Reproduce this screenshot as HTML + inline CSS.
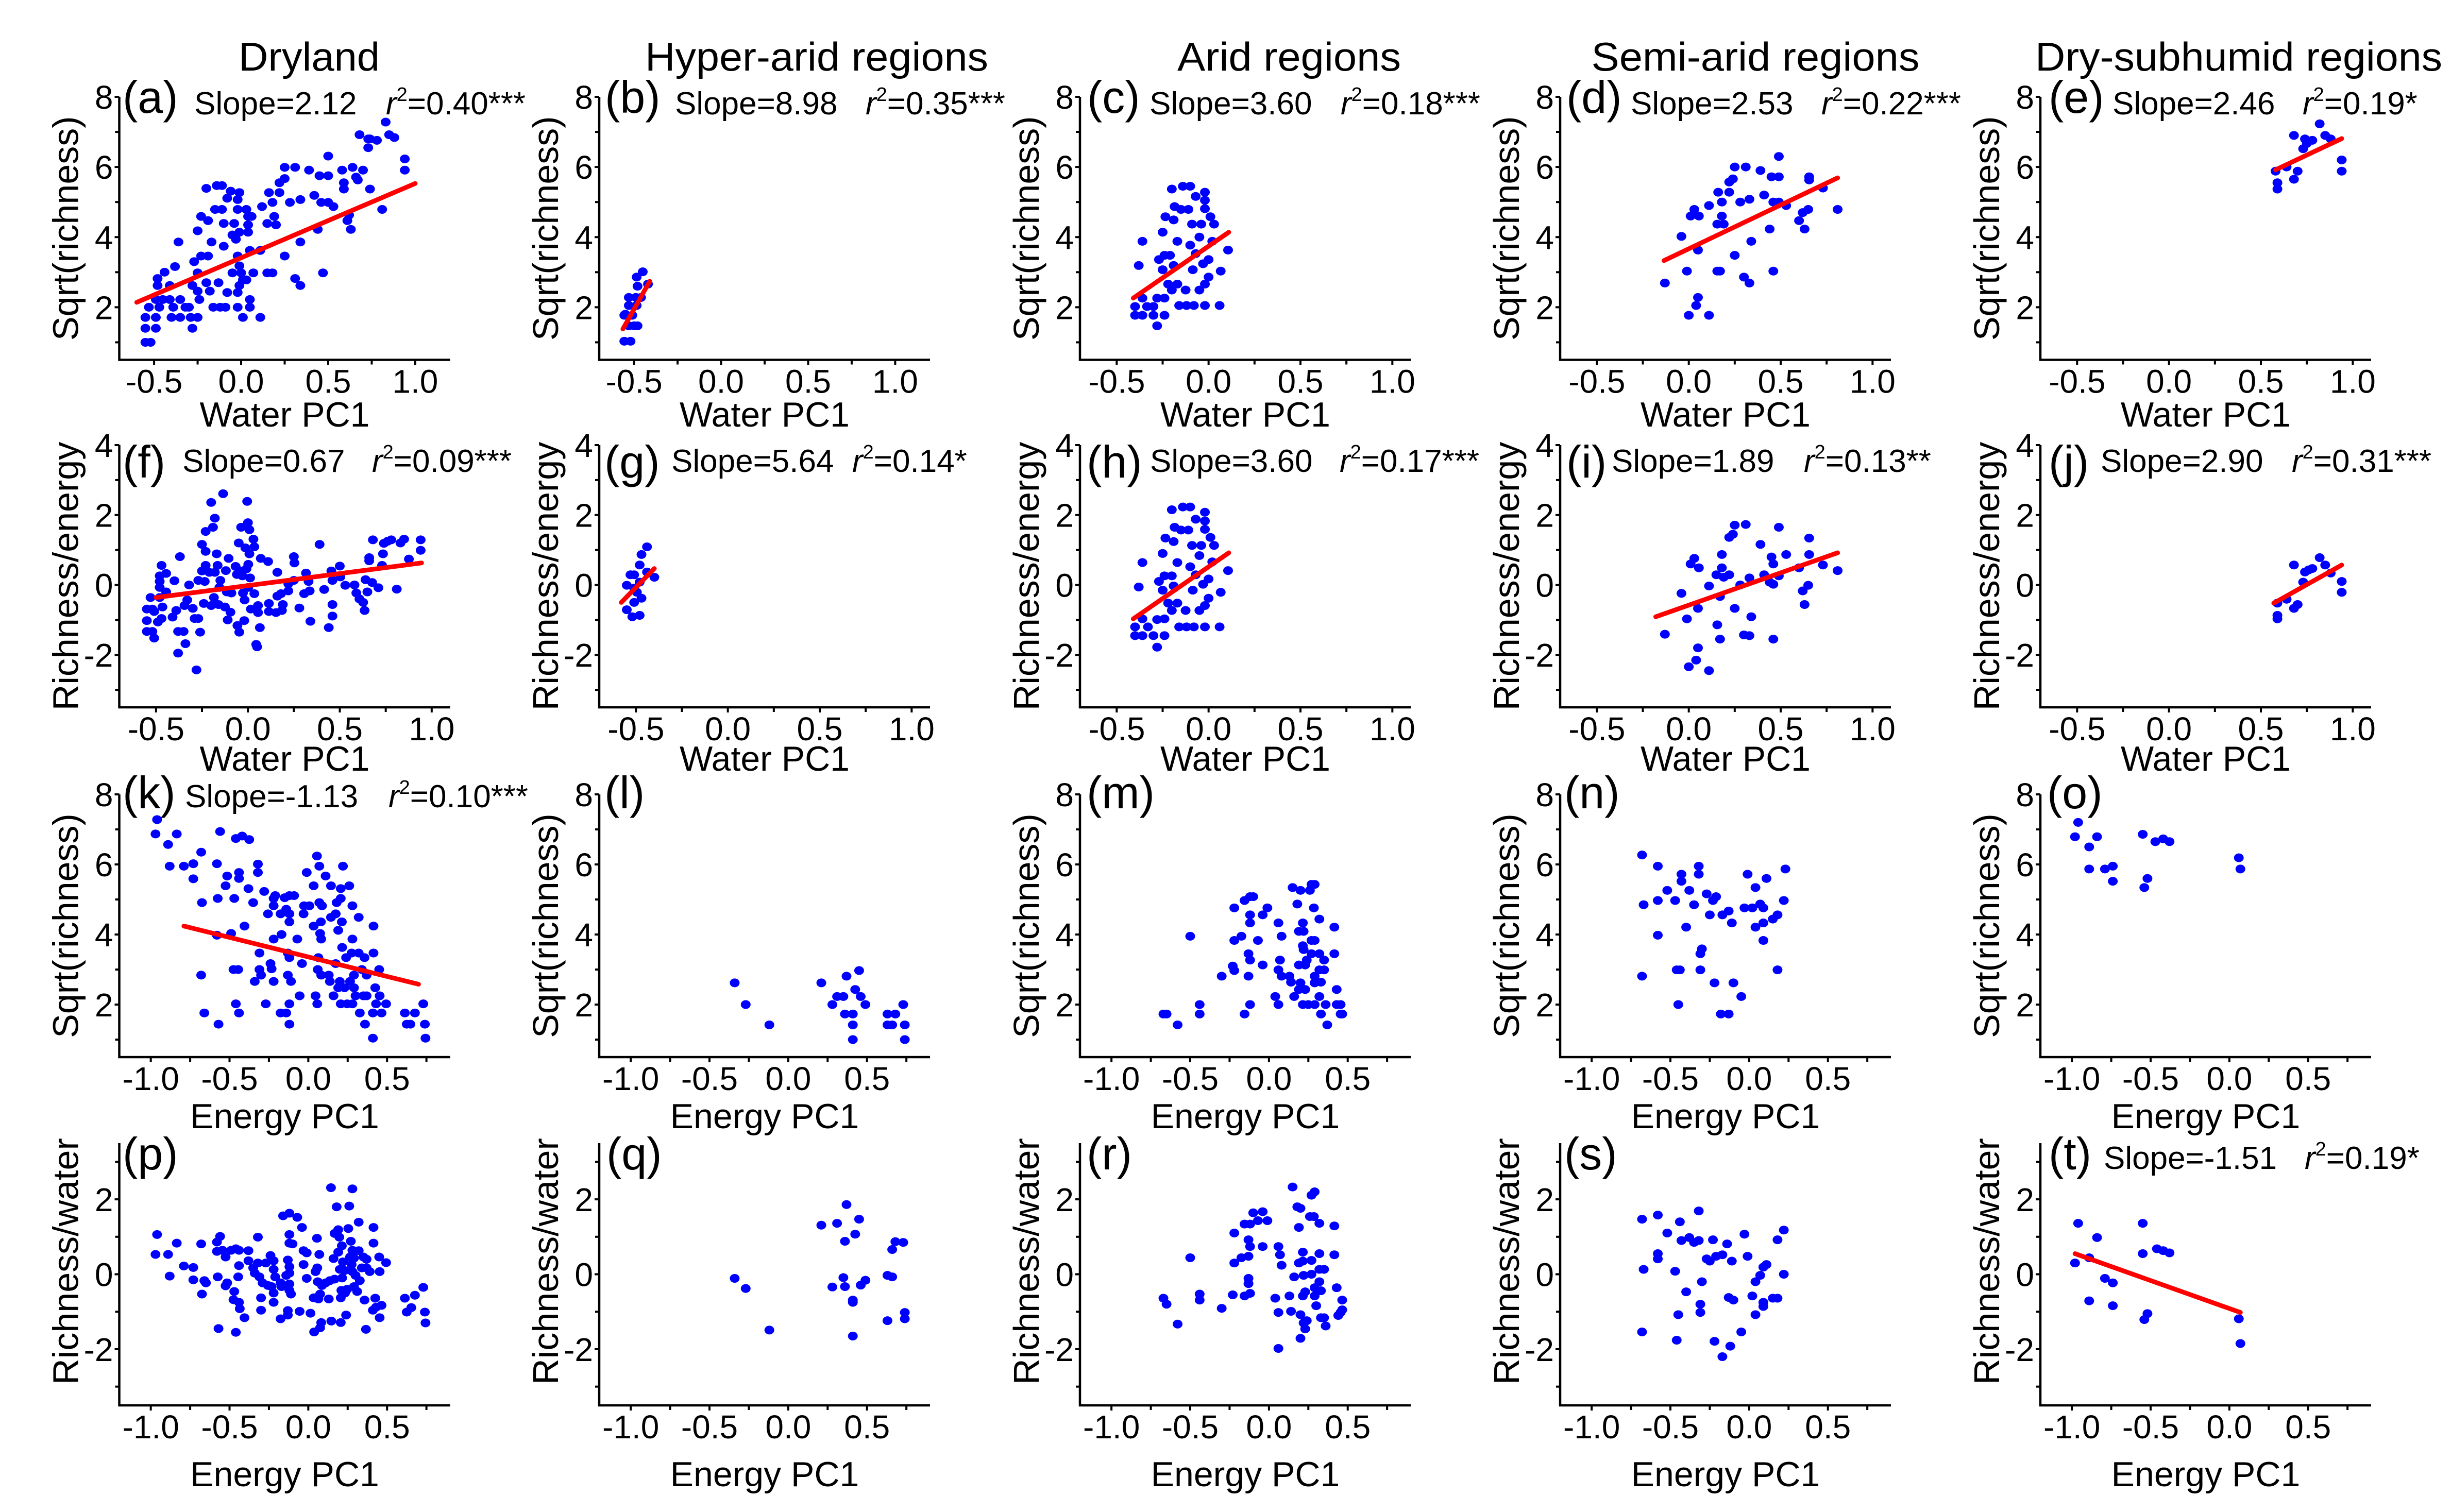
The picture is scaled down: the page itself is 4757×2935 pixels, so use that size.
<!DOCTYPE html>
<html><head><meta charset="utf-8"><title>Richness vs water/energy PC1</title>
<style>html,body{margin:0;padding:0;background:#fff;}svg{display:block;font-family:"Liberation Sans",Arial,sans-serif;}</style></head>
<body>
<svg id="fig" xmlns="http://www.w3.org/2000/svg" width="4757" height="2935" viewBox="0 0 4757 2935">
<rect x="0" y="0" width="4757" height="2935" fill="#fff"/>
<g id="root"></g>
</svg>
<script>
// ---- data (x = PC1, y = response) ----
const dataA=[[-0.55,1.71],[-0.49,1.71],[-0.55,1.40],[-0.49,1.40],[-0.55,1.0],[-0.52,1.0],[-0.53,2.0],[-0.47,2.0],[-0.48,2.82],[-0.48,2.62],[-0.44,3.0],[-0.49,2.22],[-0.45,2.22],[-0.41,2.22],[-0.41,2.62],[-0.35,2.22],[-0.39,2.0],[-0.32,2.0],[-0.40,1.71],[-0.35,1.71],[-0.38,3.16],[-0.36,3.86],[-0.30,2.0],[-0.29,1.71],[-0.25,1.71],[-0.28,1.40],[-0.28,2.62],[-0.27,3.30],[-0.25,2.98],[-0.24,2.22],[-0.25,2.46],[-0.20,5.39],[-0.23,4.59],[-0.19,4.47],[-0.25,4.18],[-0.23,3.46],[-0.19,3.46],[-0.17,3.86],[-0.20,2.70],[-0.18,2.46],[-0.16,2.0],[-0.13,2.70],[-0.12,2.0],[-0.09,2.0],[-0.14,5.47],[-0.11,5.47],[-0.15,4.79],[-0.11,4.79],[-0.10,4.39],[-0.08,5.11],[-0.06,5.31],[-0.04,4.39],[-0.10,3.74],[-0.08,2.42],[-0.05,4.06],[-0.05,2.98],[-0.03,3.94],[-0.01,5.27],[-0.02,5.07],[-0.02,4.79],[-0.01,4.14],[-0.02,3.46],[-0.01,3.18],[0.0,2.98],[0.01,2.78],[-0.01,2.62],[-0.02,2.42],[-0.02,2.0],[0.01,1.71],[0.03,4.79],[0.04,4.59],[0.06,4.59],[0.04,4.35],[0.04,4.14],[0.03,2.78],[0.05,2.22],[0.05,2.0],[0.07,2.98],[0.05,3.62],[0.11,3.62],[0.12,4.87],[0.11,1.71],[0.15,4.39],[0.16,5.27],[0.18,4.99],[0.19,4.59],[0.20,4.35],[0.15,2.98],[0.18,2.98],[0.22,5.27],[0.22,5.55],[0.25,5.67],[0.25,5.99],[0.28,4.99],[0.25,3.46],[0.31,5.99],[0.31,2.82],[0.34,2.62],[0.34,5.07],[0.34,3.86],[0.39,5.91],[0.42,5.19],[0.44,4.22],[0.45,5.75],[0.46,4.99],[0.47,2.98],[0.50,6.31],[0.50,5.75],[0.50,4.99],[0.53,4.87],[0.58,5.91],[0.59,5.55],[0.59,5.37],[0.61,4.47],[0.62,4.63],[0.63,4.22],[0.64,5.99],[0.66,5.71],[0.67,5.63],[0.70,5.91],[0.74,5.37],[0.68,6.92],[0.73,6.55],[0.73,6.80],[0.78,6.76],[0.83,7.28],[0.85,6.92],[0.88,6.84],[0.94,6.23],[0.94,5.91],[0.81,4.79],[0.74,6.8]];
const dataB=[[-0.556,1.03],[-0.52,1.03],[-0.556,1.77],[-0.51,1.77],[-0.53,1.47],[-0.50,1.47],[-0.48,1.47],[-0.53,2.05],[-0.485,2.05],[-0.53,2.28],[-0.49,2.28],[-0.46,2.28],[-0.48,2.6],[-0.485,2.86],[-0.45,3.01],[-0.42,2.66],[-0.55,1.8]];
const dataC=[[-0.40,1.77],[-0.36,1.77],[-0.40,2.02],[-0.36,2.26],[-0.335,2.02],[-0.30,2.02],[-0.30,1.77],[-0.28,1.47],[-0.24,1.77],[-0.28,2.26],[-0.38,3.19],[-0.36,3.88],[-0.27,3.36],[-0.25,3.07],[-0.24,3.48],[-0.21,3.48],[-0.22,2.66],[-0.24,2.26],[-0.20,2.49],[-0.17,2.66],[-0.19,3.19],[-0.25,4.14],[-0.235,4.58],[-0.19,4.49],[-0.185,4.87],[-0.15,4.79],[-0.11,4.79],[-0.20,5.37],[-0.14,5.45],[-0.10,5.45],[-0.17,3.88],[-0.125,2.49],[-0.16,2.05],[-0.12,2.05],[-0.08,2.05],[-0.10,3.77],[-0.09,4.37],[-0.07,5.16],[-0.05,4.0],[-0.04,4.37],[-0.02,5.28],[-0.02,5.05],[-0.02,4.81],[-0.05,2.49],[-0.02,2.66],[0.0,2.86],[-0.03,3.24],[0.0,3.36],[0.02,3.88],[0.01,4.58],[0.03,4.37],[-0.02,2.05],[0.06,2.05],[0.066,3.03],[0.106,3.63],[-0.086,3.07],[-0.07,3.53]];
const dataD=[[-0.13,2.69],[-0.04,4.02],[-0.01,3.03],[0.0,1.77],[0.04,2.05],[0.05,2.28],[0.11,1.77],[0.01,4.6],[0.03,4.79],[0.055,4.6],[0.05,3.63],[0.11,4.9],[0.155,3.03],[0.17,3.03],[0.155,4.37],[0.19,4.37],[0.18,4.6],[0.18,5.0],[0.16,5.28],[0.22,5.28],[0.22,5.57],[0.24,5.66],[0.25,3.48],[0.25,6.0],[0.31,6.0],[0.28,5.0],[0.30,2.86],[0.33,2.69],[0.33,5.08],[0.34,3.88],[0.39,5.9],[0.41,5.2],[0.44,4.23],[0.45,5.72],[0.46,3.03],[0.46,5.0],[0.49,5.72],[0.49,6.3],[0.49,5.0],[0.53,4.9],[0.6,4.47],[0.62,4.7],[0.63,4.23],[0.65,4.79],[0.655,5.72],[0.655,5.63],[0.73,5.4],[0.81,4.79]];
const dataE=[[0.59,5.37],[0.59,5.55],[0.58,5.88],[0.64,6.0],[0.68,5.65],[0.70,5.88],[0.68,6.9],[0.73,6.52],[0.74,6.8],[0.75,6.67],[0.78,6.76],[0.82,7.23],[0.85,6.9],[0.88,6.8],[0.94,6.2],[0.94,5.88]];
const dataF=[[-0.55,-0.69],[-0.55,-1.02],[-0.55,-1.33],[-0.52,-0.69],[-0.52,-1.33],[-0.51,-1.52],[-0.53,-0.36],[-0.51,-0.76],[-0.49,-1.06],[-0.48,-0.07],[-0.48,0.1],[-0.48,0.26],[-0.47,0.56],[-0.47,-0.96],[-0.465,-0.63],[-0.445,-0.2],[-0.445,0.33],[-0.48,-0.36],[-0.41,-0.92],[-0.40,0.12],[-0.39,-0.73],[-0.38,-1.33],[-0.37,0.81],[-0.38,-1.95],[-0.35,-1.33],[-0.345,-0.59],[-0.34,-1.68],[-0.33,-0.43],[-0.32,0.0],[-0.30,-0.67],[-0.29,-0.96],[-0.28,-2.43],[-0.27,0.13],[-0.27,-0.96],[-0.26,-1.35],[-0.25,0.4],[-0.25,1.16],[-0.24,-0.53],[-0.235,0.1],[-0.23,0.56],[-0.23,0.96],[-0.23,1.53],[-0.21,0.36],[-0.20,-0.59],[-0.20,2.36],[-0.19,1.65],[-0.185,-0.36],[-0.18,1.91],[-0.18,0.36],[-0.17,0.89],[-0.165,0.56],[-0.16,-0.56],[-0.155,-0.07],[-0.15,0.13],[-0.135,2.61],[-0.125,-0.63],[-0.12,0.41],[-0.115,-0.2],[-0.11,-1.0],[-0.105,0.76],[-0.095,-0.78],[-0.09,-0.23],[-0.067,0.53],[-0.06,0.3],[-0.057,-1.16],[-0.05,1.2],[-0.047,-1.35],[-0.037,1.65],[-0.037,0.4],[-0.03,0.26],[-0.027,-0.23],[-0.02,-1.02],[-0.018,-0.43],[-0.014,1.06],[-0.008,0.46],[-0.004,2.39],[0.0,1.78],[0.002,0.59],[0.002,-0.07],[0.008,1.58],[0.008,0.89],[0.012,0.2],[0.016,-0.69],[0.03,1.31],[0.035,1.09],[0.035,-0.25],[0.045,-1.7],[0.05,-1.77],[0.055,-0.59],[0.055,-0.79],[0.065,-1.22],[0.07,0.76],[0.11,0.67],[0.114,-0.53],[0.114,-0.76],[0.153,-0.79],[0.16,0.36],[0.16,-0.32],[0.18,-0.25],[0.185,-0.73],[0.19,-0.56],[0.22,0.03],[0.22,-0.17],[0.25,0.81],[0.253,0.63],[0.25,0.13],[0.28,-0.66],[0.306,-0.25],[0.316,0.34],[0.33,0.1],[0.34,-1.04],[0.336,-0.17],[0.39,1.16],[0.415,-0.13],[0.44,-1.22],[0.454,0.4],[0.46,0.13],[0.46,-0.56],[0.46,-0.89],[0.50,0.54],[0.503,0.23],[0.53,-0.01],[0.58,0.0],[0.59,-0.23],[0.607,-0.4],[0.627,-0.5],[0.635,-0.73],[0.64,0.15],[0.65,-0.2],[0.66,0.78],[0.66,0.69],[0.676,0.07],[0.68,1.29],[0.71,-0.08],[0.73,0.56],[0.735,0.89],[0.74,1.19],[0.76,1.25],[0.78,1.29],[0.81,-0.12],[0.83,1.2],[0.85,1.31],[0.876,0.74],[0.94,1.29],[0.94,0.99]];
const dataG=[[-0.55,-0.71],[-0.52,-0.91],[-0.48,-0.87],[-0.51,-0.5],[-0.47,-0.38],[-0.55,-0.01],[-0.53,0.29],[-0.51,0.29],[-0.51,-0.09],[-0.48,0.08],[-0.48,0.57],[-0.47,0.87],[-0.44,1.09],[-0.44,0.37],[-0.40,0.22],[-0.495,-0.21]];
const dataH=[[-0.40,-1.45],[-0.36,-1.45],[-0.40,-1.2],[-0.36,-0.97],[-0.33,-1.2],[-0.30,-1.45],[-0.28,-1.78],[-0.24,-1.45],[-0.28,-0.99],[-0.38,-0.06],[-0.36,0.64],[-0.27,0.1],[-0.25,-0.15],[-0.24,0.26],[-0.20,0.26],[-0.22,-0.52],[-0.24,-0.97],[-0.20,-0.73],[-0.17,-0.52],[-0.19,-0.03],[-0.25,0.9],[-0.235,1.34],[-0.19,1.24],[-0.185,1.65],[-0.15,1.57],[-0.11,1.57],[-0.20,2.15],[-0.14,2.23],[-0.10,2.23],[-0.17,0.64],[-0.125,-0.73],[-0.16,-1.2],[-0.12,-1.2],[-0.08,-1.2],[-0.10,0.52],[-0.09,1.13],[-0.07,1.88],[-0.05,0.84],[-0.04,1.13],[-0.02,2.08],[-0.02,1.83],[-0.02,1.59],[-0.05,-0.73],[-0.02,-0.59],[0.0,-0.38],[-0.03,0.02],[0.0,0.17],[0.02,0.66],[0.01,1.36],[0.03,1.13],[-0.02,-1.2],[0.06,-1.2],[0.066,-0.21],[0.106,0.41],[-0.086,-0.15],[-0.07,0.29]];
const dataI=[[-0.13,-1.41],[-0.04,-0.24],[-0.01,-0.97],[0.0,-2.34],[0.04,-2.15],[0.05,-1.8],[0.11,-2.45],[0.01,0.6],[0.03,0.76],[0.055,0.49],[0.05,-0.67],[0.11,-0.03],[0.155,-1.14],[0.17,-1.55],[0.15,0.29],[0.17,-0.33],[0.18,0.49],[0.18,0.87],[0.19,0.22],[0.22,0.29],[0.22,1.36],[0.24,1.45],[0.25,-0.67],[0.25,1.71],[0.31,1.73],[0.28,0.0],[0.30,-1.43],[0.33,-1.45],[0.33,0.2],[0.34,-0.91],[0.39,1.16],[0.41,0.29],[0.44,0.08],[0.45,0.8],[0.46,-1.55],[0.46,0.02],[0.46,0.6],[0.49,1.65],[0.49,0.26],[0.53,0.87],[0.6,0.49],[0.62,-0.17],[0.63,-0.56],[0.65,-0.01],[0.655,0.87],[0.655,1.34],[0.73,0.57],[0.81,0.41]];
const dataJ=[[0.59,-0.52],[0.59,-0.87],[0.59,-0.97],[0.64,-0.41],[0.68,-0.67],[0.70,-0.56],[0.68,0.57],[0.73,0.08],[0.74,0.37],[0.76,0.43],[0.78,0.47],[0.82,0.78],[0.85,0.57],[0.88,0.34],[0.94,0.1],[0.94,-0.21]];
const dataK=[[-0.96,7.28],[-0.97,6.87],[-0.89,6.57],[-0.835,6.87],[-0.88,5.95],[-0.79,5.95],[-0.73,6.02],[-0.73,5.59],[-0.68,6.35],[-0.675,4.91],[-0.68,2.84],[-0.66,1.76],[-0.58,6.02],[-0.575,5.03],[-0.58,3.98],[-0.57,1.44],[-0.56,6.94],[-0.525,5.39],[-0.515,5.67],[-0.49,4.03],[-0.47,5.03],[-0.475,3.0],[-0.445,3.0],[-0.46,6.74],[-0.44,5.77],[-0.44,5.6],[-0.42,6.81],[-0.375,6.71],[-0.46,2.02],[-0.44,1.76],[-0.405,4.24],[-0.38,5.31],[-0.35,4.91],[-0.34,2.66],[-0.32,6.01],[-0.32,5.77],[-0.31,3.47],[-0.31,3.0],[-0.30,2.84],[-0.28,5.23],[-0.27,2.02],[-0.256,4.59],[-0.24,3.17],[-0.233,3.02],[-0.22,5.03],[-0.22,2.66],[-0.22,3.87],[-0.22,4.82],[-0.21,5.11],[-0.176,4.59],[-0.17,4.0],[-0.176,1.76],[-0.14,1.76],[-0.13,3.47],[-0.12,3.34],[-0.13,2.84],[-0.12,1.44],[-0.12,2.02],[-0.11,2.66],[-0.15,5.05],[-0.12,5.11],[-0.14,4.72],[-0.12,4.59],[-0.12,4.36],[-0.09,5.11],[-0.07,3.87],[-0.055,2.25],[-0.04,3.17],[-0.03,4.59],[-0.027,4.82],[-0.01,5.77],[0.007,4.82],[0.034,5.39],[0.034,4.24],[0.046,2.25],[0.055,6.24],[0.057,2.02],[0.06,3.0],[0.064,3.34],[0.07,5.95],[0.07,4.91],[0.075,4.03],[0.08,4.36],[0.082,2.84],[0.087,4.82],[0.082,3.87],[0.11,5.67],[0.13,2.84],[0.137,2.66],[0.144,5.39],[0.144,4.49],[0.16,2.25],[0.174,4.59],[0.174,3.17],[0.18,4.91],[0.19,4.12],[0.19,2.48],[0.2,2.66],[0.206,5.31],[0.206,5.03],[0.206,2.02],[0.213,4.36],[0.215,3.63],[0.22,5.95],[0.23,2.48],[0.24,3.34],[0.247,2.02],[0.26,5.39],[0.265,2.66],[0.275,3.47],[0.28,4.82],[0.28,2.02],[0.28,3.87],[0.29,2.84],[0.29,2.48],[0.30,2.25],[0.32,4.49],[0.32,3.47],[0.327,1.76],[0.34,3.0],[0.35,2.25],[0.357,3.34],[0.36,1.44],[0.37,2.84],[0.37,2.25],[0.41,1.76],[0.41,1.04],[0.414,4.24],[0.414,3.47],[0.425,2.48],[0.43,2.02],[0.45,3.0],[0.453,2.25],[0.465,1.76],[0.494,2.02],[0.613,1.76],[0.625,1.44],[0.648,1.44],[0.677,1.76],[0.73,2.02],[0.74,1.44],[0.744,1.04]];
const dataL=[[-0.34,2.62],[-0.27,2.0],[-0.12,1.42],[0.21,2.62],[0.28,2.0],[0.31,2.23],[0.35,2.23],[0.36,1.73],[0.37,2.81],[0.425,2.43],[0.45,2.97],[0.46,2.23],[0.41,1.73],[0.41,1.42],[0.41,1.0],[0.49,2.0],[0.63,1.73],[0.68,1.73],[0.63,1.42],[0.66,1.42],[0.73,2.0],[0.74,1.42],[0.74,1.0]];
const dataM=[[-0.67,1.73],[-0.65,1.73],[-0.58,1.42],[-0.50,3.95],[-0.44,2.0],[-0.44,1.73],[-0.30,2.81],[-0.23,3.1],[-0.22,2.97],[-0.22,4.76],[-0.22,3.83],[-0.175,3.95],[-0.155,4.97],[-0.12,5.08],[-0.10,5.08],[-0.13,3.45],[-0.12,3.27],[-0.13,2.81],[-0.12,2.0],[-0.155,1.73],[-0.12,4.56],[-0.12,4.33],[-0.07,3.83],[-0.04,4.56],[-0.01,4.76],[-0.04,3.13],[0.04,2.23],[0.06,2.0],[0.06,4.33],[0.06,2.99],[0.08,2.81],[0.07,3.27],[0.08,3.95],[0.14,2.64],[0.13,2.81],[0.15,5.34],[0.16,2.23],[0.18,4.87],[0.19,3.13],[0.19,4.09],[0.20,5.26],[0.20,2.62],[0.215,2.0],[0.215,4.33],[0.22,4.09],[0.215,3.68],[0.22,3.57],[0.23,3.13],[0.24,3.27],[0.19,2.43],[0.23,2.43],[0.25,2.0],[0.26,5.26],[0.27,5.43],[0.29,5.43],[0.285,4.76],[0.27,3.83],[0.29,3.83],[0.27,3.45],[0.29,2.81],[0.29,2.62],[0.29,2.0],[0.32,4.44],[0.32,3.45],[0.32,2.99],[0.33,2.64],[0.32,2.23],[0.33,1.73],[0.35,2.99],[0.35,3.27],[0.36,2.0],[0.37,1.42],[0.415,4.21],[0.415,3.45],[0.43,2.43],[0.43,2.0],[0.455,2.0],[0.455,1.73],[0.465,1.73]];
const dataN=[[-0.68,6.27],[-0.67,4.85],[-0.68,2.81],[-0.58,5.95],[-0.58,4.97],[-0.58,3.98],[-0.52,5.26],[-0.47,4.97],[-0.46,2.99],[-0.44,2.99],[-0.45,2.0],[-0.43,5.72],[-0.43,5.52],[-0.40,4.21],[-0.38,5.26],[-0.35,4.85],[-0.32,5.95],[-0.32,5.72],[-0.31,3.45],[-0.30,3.59],[-0.31,2.99],[-0.27,5.16],[-0.25,4.56],[-0.23,4.97],[-0.21,5.08],[-0.22,2.62],[-0.18,1.73],[-0.17,4.56],[-0.13,1.73],[-0.13,4.67],[-0.11,4.33],[-0.10,2.62],[-0.05,2.23],[-0.03,4.76],[-0.01,5.72],[0.02,4.76],[0.04,4.21],[0.04,5.34],[0.07,4.87],[0.09,3.83],[0.09,4.76],[0.09,4.33],[0.11,5.6],[0.15,4.44],[0.18,4.56],[0.18,2.99],[0.22,4.97],[0.23,5.87]];
const dataO=[[-0.96,7.2],[-0.98,6.79],[-0.89,6.5],[-0.84,6.79],[-0.89,5.87],[-0.79,5.87],[-0.74,5.95],[-0.74,5.52],[-0.55,6.86],[-0.52,5.6],[-0.54,5.34],[-0.47,6.65],[-0.42,6.73],[-0.38,6.65],[0.06,6.19],[0.07,5.87]];
const dataP=[[-0.96,1.06],[-0.97,0.53],[-0.89,0.53],[-0.88,-0.05],[-0.835,0.83],[-0.79,0.22],[-0.73,0.18],[-0.73,-0.15],[-0.68,0.81],[-0.675,-0.53],[-0.66,-0.17],[-0.65,-0.23],[-0.58,0.86],[-0.58,0.61],[-0.575,-0.07],[-0.57,-1.45],[-0.56,1.01],[-0.545,0.64],[-0.525,0.46],[-0.525,-0.31],[-0.515,-0.23],[-0.49,0.64],[-0.47,-0.46],[-0.475,-0.68],[-0.46,0.68],[-0.44,0.64],[-0.44,0.23],[-0.445,-0.07],[-0.44,-0.75],[-0.435,-0.92],[-0.46,-1.55],[-0.405,-1.16],[-0.38,0.63],[-0.38,0.36],[-0.35,0.17],[-0.34,0.03],[-0.32,0.99],[-0.32,0.3],[-0.31,-0.07],[-0.30,-0.63],[-0.30,-0.96],[-0.29,-0.23],[-0.27,0.3],[-0.256,-0.3],[-0.24,0.5],[-0.233,-0.33],[-0.22,0.36],[-0.22,0.13],[-0.22,-0.5],[-0.22,-0.75],[-0.21,-0.07],[-0.176,-0.23],[-0.17,-0.33],[-0.176,-1.19],[-0.16,1.56],[-0.14,-0.03],[-0.13,0.38],[-0.13,-1.09],[-0.13,-0.97],[-0.12,1.63],[-0.12,1.06],[-0.12,0.83],[-0.12,0.2],[-0.12,0.03],[-0.12,-0.26],[-0.12,-0.43],[-0.11,-0.53],[-0.10,0.81],[-0.07,1.52],[-0.055,-0.99],[-0.04,1.25],[-0.03,0.26],[-0.03,0.63],[-0.01,-0.11],[-0.01,0.57],[0.014,-1.04],[0.034,-0.63],[0.037,-1.54],[0.046,0.07],[0.055,0.96],[0.057,0.17],[0.06,-0.2],[0.064,-0.66],[0.07,0.53],[0.075,-0.53],[0.075,-1.43],[0.082,-1.29],[0.087,-0.3],[0.11,-0.23],[0.13,-0.66],[0.137,-0.17],[0.144,2.31],[0.146,-1.25],[0.16,0.42],[0.167,-0.13],[0.167,1.09],[0.18,1.8],[0.19,1.19],[0.19,0.59],[0.197,0.99],[0.2,0.13],[0.206,-1.29],[0.206,-0.63],[0.21,-0.43],[0.213,0.76],[0.215,-0.1],[0.22,0.33],[0.23,0.1],[0.233,-0.5],[0.24,-1.09],[0.247,-0.4],[0.254,1.22],[0.26,1.82],[0.265,0.46],[0.27,0.88],[0.275,0.26],[0.28,2.28],[0.28,0.64],[0.28,0.07],[0.29,-0.33],[0.29,0.43],[0.30,-0.03],[0.31,-0.46],[0.32,1.39],[0.32,0.63],[0.327,-0.17],[0.34,0.17],[0.35,0.46],[0.357,-0.69],[0.366,-1.47],[0.37,0.4],[0.37,0.17],[0.39,0.07],[0.41,-0.96],[0.414,1.25],[0.414,0.83],[0.425,-0.64],[0.43,-0.88],[0.45,0.46],[0.453,0.07],[0.453,-1.16],[0.465,-0.83],[0.494,0.31],[0.613,-0.64],[0.625,-1.01],[0.654,-0.89],[0.677,-0.56],[0.73,-0.35],[0.74,-1.01],[0.744,-1.3]];
const dataQ=[[-0.34,-0.11],[-0.27,-0.38],[-0.12,-1.49],[0.21,1.31],[0.28,-0.34],[0.31,1.36],[0.35,-0.09],[0.36,0.88],[0.36,-0.33],[0.37,1.86],[0.425,1.07],[0.45,1.47],[0.46,-0.29],[0.41,-0.69],[0.41,-0.75],[0.41,-1.65],[0.49,-0.16],[0.63,-1.24],[0.63,-0.03],[0.66,-0.07],[0.66,0.66],[0.68,0.87],[0.73,0.85],[0.74,-1.02],[0.74,-1.19]];
const dataR=[[-0.67,-0.64],[-0.65,-0.8],[-0.58,-1.33],[-0.50,0.44],[-0.44,-0.53],[-0.44,-0.69],[-0.30,-0.91],[-0.23,-0.55],[-0.22,0.3],[-0.22,1.1],[-0.175,0.44],[-0.155,1.34],[-0.12,1.34],[-0.10,1.64],[-0.04,1.67],[-0.01,1.43],[-0.07,1.43],[-0.13,0.92],[-0.12,0.74],[-0.13,-0.11],[-0.13,-0.25],[-0.12,-0.51],[-0.155,-0.58],[-0.13,0.48],[-0.04,0.74],[0.04,-0.64],[0.06,-1.02],[0.06,0.74],[0.07,0.52],[0.08,0.24],[0.06,-1.98],[0.13,-0.58],[0.14,-0.99],[0.15,2.33],[0.16,-0.07],[0.18,1.8],[0.19,1.25],[0.19,0.3],[0.20,1.76],[0.20,-1.08],[0.215,0.59],[0.215,0.35],[0.22,-0.03],[0.215,-0.58],[0.22,-1.3],[0.20,-1.71],[0.23,-1.46],[0.23,-0.47],[0.24,-1.24],[0.26,1.54],[0.27,2.11],[0.29,2.2],[0.285,1.54],[0.27,0.37],[0.27,0.0],[0.29,-0.36],[0.29,-0.58],[0.30,-0.84],[0.32,1.36],[0.32,0.55],[0.32,0.13],[0.32,-0.2],[0.33,-0.44],[0.33,-1.16],[0.35,0.13],[0.35,-1.16],[0.36,-1.38],[0.415,1.29],[0.415,0.52],[0.43,-0.36],[0.44,-1.1],[0.455,-1.02],[0.465,-0.69],[0.465,-0.95]];
const dataS=[[-0.68,1.47],[-0.67,0.13],[-0.68,-1.54],[-0.58,1.58],[-0.58,0.55],[-0.58,0.41],[-0.52,1.1],[-0.47,0.08],[-0.46,-1.76],[-0.45,-1.08],[-0.44,1.4],[-0.43,0.9],[-0.40,-0.47],[-0.38,0.98],[-0.35,0.85],[-0.32,1.69],[-0.32,0.9],[-0.31,-0.8],[-0.31,-1.02],[-0.30,-0.2],[-0.27,0.41],[-0.25,0.35],[-0.23,0.92],[-0.22,-1.79],[-0.21,0.48],[-0.17,0.52],[-0.17,-2.2],[-0.14,0.81],[-0.13,-0.62],[-0.12,-1.92],[-0.11,0.35],[-0.10,-0.69],[-0.05,-1.54],[-0.03,1.07],[-0.01,0.48],[0.02,-0.58],[0.04,-0.2],[0.04,-1.08],[0.07,-0.03],[0.09,-0.75],[0.09,0.19],[0.09,-0.86],[0.11,0.26],[0.15,-0.64],[0.18,-0.64],[0.18,0.92],[0.22,1.18],[0.22,0.0]];
const dataT=[[-0.96,1.36],[-0.98,0.3],[-0.89,0.44],[-0.84,0.98],[-0.89,-0.71],[-0.79,-0.11],[-0.74,-0.23],[-0.74,-0.84],[-0.55,1.36],[-0.55,0.55],[-0.52,-1.05],[-0.54,-1.21],[-0.46,0.68],[-0.42,0.63],[-0.38,0.57],[0.06,-1.19],[0.07,-1.85]];
// regression line end points (data units)
const lineA=[[-0.60,2.14],[1.0,5.53]];
const lineB=[[-0.564,1.38],[-0.41,2.74]];
const lineC=[[-0.41,2.26],[0.11,4.14]];
const lineD=[[-0.135,3.33],[0.81,5.69]];
const lineE=[[0.58,5.92],[0.94,6.81]];
const lineF=[[-0.50,-0.36],[0.945,0.63]];
const lineG=[[-0.58,-0.5],[-0.40,0.47]];
const lineH=[[-0.41,-0.97],[0.11,0.92]];
const lineI=[[-0.18,-0.91],[0.81,0.92]];
const lineJ=[[0.57,-0.52],[0.94,0.57]];
const lineK=[[-0.79,4.24],[0.70,2.58]];
const lineT=[[-0.98,0.55],[0.07,-1.02]];
// tick values / labels
const waterTicks=[-0.5,0,0.5,1.0];
const waterTickLabels=["-0.5","0.0","0.5","1.0"];
const waterMinor=[-0.25,0.25,0.75];
const energyTicks=[-1.0,-0.5,0,0.5];
const energyTickLabels=["-1.0","-0.5","0.0","0.5"];
const energyMinor=[-0.75,-0.25,0.25,0.75];
const yTicksRich=[2,4,6,8];
const yMinorRich=[1,3,5,7];
const yTicksRatio4=[-2,0,2,4];
const yMinorRatio4=[-3,-1,1,3];
const yTicksRatio3=[-2,0,2];
const yMinorRatio3=[-3,-1,1,3];
const colTitles=["Dryland","Hyper-arid regions","Arid regions","Semi-arid regions","Dry-subhumid regions"];
const stats={a:["Slope=2.12","0.40***"],b:["Slope=8.98","0.35***"],c:["Slope=3.60","0.18***"],d:["Slope=2.53","0.22***"],e:["Slope=2.46","0.19*"],f:["Slope=0.67","0.09***"],g:["Slope=5.64","0.14*"],h:["Slope=3.60","0.17***"],i:["Slope=1.89","0.13**"],j:["Slope=2.90","0.31***"],k:["Slope=-1.13","0.10***"],t:["Slope=-1.51","0.19*"]};

// ---- layout ----
const NS="http://www.w3.org/2000/svg";
const root=document.getElementById('root');
const colX0=[231.5,1163,2096,3028,3960];
const axW=642;
const titleCx=[600,1585,2502,3407,4345];
const titleW=[274,666,434,637,790];
const rows=[
 {top:188,bot:698.5,ymin:0.5,ymax:8,yt:yTicksRich,ym:yMinorRich,ylab:"Sqrt(richness)",xlab:"Water PC1",xt:waterTicks,xl:waterTickLabels,xm:waterMinor,labBase:219,slBase:222,xlabBase:828,ylabOff:0},
 {top:864,bot:1373,ymin:-3.5,ymax:4,yt:yTicksRatio4,ym:yMinorRatio4,ylab:"Richness/energy",xlab:"Water PC1",xt:waterTicks,xl:waterTickLabels,xm:waterMinor,labBase:927,slBase:916,xlabBase:1496,ylabOff:0},
 {top:1542,bot:2052,ymin:0.5,ymax:8,yt:yTicksRich,ym:yMinorRich,ylab:"Sqrt(richness)",xlab:"Energy PC1",xt:energyTicks,xl:energyTickLabels,xm:energyMinor,labBase:1569,slBase:1567,xlabBase:2190,ylabOff:0},
 {top:2219,bot:2728,ymin:-3.5,ymax:3.5,yt:yTicksRatio3,ym:yMinorRatio3,ylab:"Richness/water",xlab:"Energy PC1",xt:energyTicks,xl:energyTickLabels,xm:energyMinor,labBase:2270,slBase:2269,xlabBase:2885,ylabOff:-25}
];
function xRange(r,c){ if(r>=2) return [-1.2,0.9]; if(r===0&&c<2) return [-0.7,1.2]; return [-0.7,1.1]; }
const letters="abcdefghijklmnopqrst";
const panelData={a:dataA,b:dataB,c:dataC,d:dataD,e:dataE,f:dataF,g:dataG,h:dataH,i:dataI,j:dataJ,k:dataK,l:dataL,m:dataM,n:dataN,o:dataO,p:dataP,q:dataQ,r:dataR,s:dataS,t:dataT};
const panelLine={a:lineA,b:lineB,c:lineC,d:lineD,e:lineE,f:lineF,g:lineG,h:lineH,i:lineI,j:lineJ,k:lineK,t:lineT};
const labelX={a:238,b:1174,c:2110,d:3040,e:3976,f:238,g:1173,h:2109,i:3040,j:3976,k:238,l:1173,m:2109,n:3036,o:3973,p:238,q:1177,r:2109,s:3036,t:3976};
const slopeX={a:377,b:1310,c:2231,d:3165,e:4100,f:354,g:1303,h:2232,i:3128,j:4077,k:359,t:4083};
const r2X={a:749,b:1680,c:2602,d:3535,e:4469,f:722,g:1654,h:2600,i:3501,j:4448,k:754,t:4473};

function mk(tag,attrs,parent){const e=document.createElementNS(NS,tag);for(const k in attrs)e.setAttribute(k,attrs[k]);(parent||root).appendChild(e);return e;}

colTitles.forEach((t,c)=>{
  const e=mk('text',{x:titleCx[c],y:137,'font-size':78,'text-anchor':'middle',textLength:titleW[c],lengthAdjust:'spacingAndGlyphs'});
  
  
  e.textContent=t;
});

for(let r=0;r<4;r++){
 const R=rows[r];
 for(let c=0;c<5;c++){
  const L=letters[r*5+c];
  const g=mk('g',{});
  
  
  const x0=colX0[c], x1=x0+axW;
  const [xmin,xmax]=xRange(r,c);
  const sx=v=>x0+(v-xmin)/(xmax-xmin)*axW;
  const sy=v=>R.bot-(v-R.ymin)/(R.ymax-R.ymin)*(R.bot-R.top);
  const ya=mk('line',{x1:x0,y1:sy(R.ymax),x2:x0,y2:R.bot+2,stroke:'#000','stroke-width':4.5},g);
  
  
  const xa=mk('line',{x1:x0-2,y1:R.bot,x2:x1,y2:R.bot,stroke:'#000','stroke-width':4.5},g);
  
  
  R.xt.forEach((v,i)=>{
    const X=sx(v);
    const t=mk('line',{x1:X,y1:R.bot,x2:X,y2:R.bot+10,stroke:'#000','stroke-width':4},g);
    
    
    const tl=mk('text',{x:X,y:R.bot+64,'font-size':64,'text-anchor':'middle'},g);
    
    
    tl.textContent=R.xl[i];
  });
  R.xm.forEach(v=>{
    const X=sx(v); if(X>x1) return;
    const t=mk('line',{x1:X,y1:R.bot,x2:X,y2:R.bot+9,stroke:'#000','stroke-width':4},g);
    
    
  });
  R.yt.forEach(v=>{
    const Y=sy(v);
    const t=mk('line',{x1:x0-9,y1:Y,x2:x0,y2:Y,stroke:'#000','stroke-width':4},g);
    
    
    const tl=mk('text',{x:x0-12,y:Y+23,'font-size':64,'text-anchor':'end'},g);
    
    
    tl.textContent=String(v);
  });
  R.ym.forEach(v=>{
    const Y=sy(v);
    const t=mk('line',{x1:x0-8,y1:Y,x2:x0,y2:Y,stroke:'#000','stroke-width':4},g);
    
    
  });
  const xt=mk('text',{x:(x0+x1)/2,y:R.xlabBase,'font-size':68,'text-anchor':'middle'},g);
  
  
  xt.textContent=R.xlab;
  const cy=(R.top+R.bot)/2+R.ylabOff;
  const yt=mk('text',{x:0,y:0,'font-size':70,'text-anchor':'middle',transform:`translate(${x0-80},${cy}) rotate(-90)`},g);
  
  
  yt.textContent=R.ylab;
  panelData[L].forEach(p=>{
    const d=mk('ellipse',{cx:sx(p[0]),cy:sy(p[1]),rx:9.5,ry:8.5,fill:'#0000ff'},g);
    
    
  });
  if(panelLine[L]){
    const ln=panelLine[L];
    const fl=mk('line',{x1:sx(ln[0][0]),y1:sy(ln[0][1]),x2:sx(ln[1][0]),y2:sy(ln[1][1]),stroke:'#ff0000','stroke-width':9,'stroke-linecap':'round'},g);
    
    
  }
  const pl=mk('text',{x:labelX[L],y:R.labBase,'font-size':88},g);
  
  
  pl.textContent='('+L+')';
  if(stats[L]){
    const st=mk('text',{x:slopeX[L],y:R.slBase,'font-size':62},g);
    
    
    st.textContent=stats[L][0];
    const rt=mk('text',{x:r2X[L],y:R.slBase,'font-size':62},g);
    
    
    const t1=mk('tspan',{'font-style':'italic'},rt); t1.textContent='r';
    const t2=mk('tspan',{dy:-26,'font-size':38},rt); t2.textContent='2';
    const t3=mk('tspan',{dy:26},rt); t3.textContent='='+stats[L][1];
  }
 }
}
</script>
</body></html>
